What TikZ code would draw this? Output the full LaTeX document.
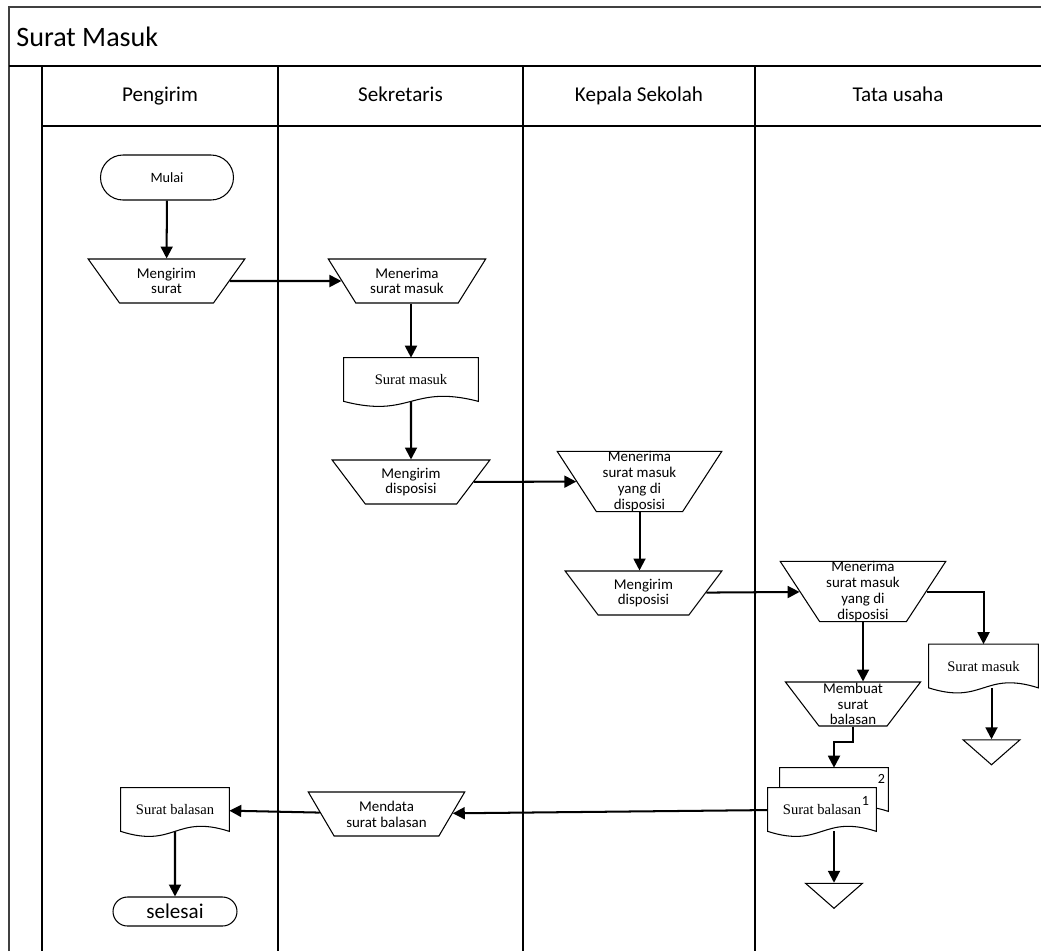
\documentclass[tikz,border=0pt]{standalone}
\usepackage{fontspec}
\setmainfont{Carlito}
\newfontfamily\docfont{Liberation Serif}
\usetikzlibrary{arrows.meta,shapes.geometric,shapes.misc,calc,backgrounds}
\definecolor{FrameGray}{RGB}{64,64,64}

% document symbol with a wavy bottom edge
\newcommand{\docshape}[1]{%
  \draw[fill=white, line width=0.6pt] (#1.south west) -- (#1.north west) -- (#1.north east) -- (#1.south east)
    .. controls ($(#1.south)+(0,0.35cm)$) and ($(#1.south)+(0,-0.35cm)$) .. (#1.south west) -- cycle;}

\begin{document}
\begin{tikzpicture}[x=0.02cm, y=-0.02cm,
    lane/.style={line width=0.85pt},
    title/.style={font=\fontsize{16}{18}\selectfont, inner sep=0pt},
    head/.style={font=\fontsize{12}{14}\selectfont, inner sep=0pt, anchor=base},
    term/.style={rounded rectangle, draw, line width=0.6pt, inner sep=0pt},
    manop/.style={trapezium, trapezium angle=53, trapezium stretches=true, shape border rotate=180,
        draw, line width=0.6pt, align=center, inner sep=0pt, minimum height=0.88cm, font=\fontsize{8.5}{9}\selectfont},
    doc/.style={rectangle, inner sep=0pt, minimum height=0.86cm, font=\docfont\fontsize{8.3}{10}\selectfont},
    num/.style={inner sep=0pt, font=\fontsize{8}{9}\selectfont},
    merge/.style={isosceles triangle, isosceles triangle stretches, shape border rotate=-90, draw, line width=0.6pt,
        inner sep=0pt, minimum width=1.14cm, minimum height=0.5cm},
    arr/.style={-{Triangle[length=6.8pt,width=6.8pt]}, line width=1.15pt}
]
    \useasboundingbox (0,0) rectangle (1041,951);

    % swimlane frame
    \draw[line width=1.2pt, FrameGray] (9,951) -- (9,7) -- (1041,7);
    \draw[lane] (9,66) -- (1041,66);
    \draw[lane] (42,66) -- (42,951);
    \draw[lane] (42,126) -- (1041,126);
    \foreach \lx in {278,523,755}
        \draw[lane] (\lx,66) -- (\lx,951);

    \node[title, anchor=west] (judul) at (16,37) {Surat Masuk};
    \node[head] (hpengirim) at (160,101)   {Pengirim};
    \node[head] (hsekretaris) at (400.5,101) {Sekretaris};
    \node[head] (hkepsek) at (639,101)   {Kepala Sekolah};
    \node[head] (htu) at (898,101)   {Tata usaha};

    % Pengirim
    \node[term, minimum width=2.66cm, minimum height=0.9cm, font=\fontsize{8.1}{9}\selectfont] (mulai) at (167,177.5) {Mulai};
    \node[manop, minimum width=3.14cm] (kirim) at (166.5,281) {Mengirim\\surat};
    \node[doc, minimum width=2.16cm] (sbp) at (175,809.5) {Surat balasan};
    \node[term, minimum width=2.48cm, minimum height=0.58cm, font=\fontsize{12}{14}\selectfont] (selesai) at (175,911.5) {selesai};

    % Sekretaris
    \node[manop, minimum width=3.16cm] (terima) at (407,281) {Menerima\\surat masuk};
    \node[doc, minimum width=2.68cm] (sm1) at (411,379.5) {Surat masuk};
    \node[manop, minimum width=3.16cm] (kdispo) at (411,482) {Mengirim\\disposisi};
    \node[manop, minimum width=3.14cm] (mendata) at (386.5,814) {Mendata\\surat balasan};

    % Kepala Sekolah
    \node[manop, trapezium angle=61, minimum width=3.3cm, minimum height=1.18cm] (terimak) at (639.5,481.5) {Menerima\\surat masuk\\yang di\\disposisi};
    \node[manop, minimum width=3.14cm] (kdispok) at (643.5,593) {Mengirim\\disposisi};

    % Tata usaha
    \node[manop, trapezium angle=61, minimum width=3.32cm, minimum height=1.18cm] (terimat) at (863,591.5) {Menerima\\surat masuk\\yang di\\disposisi};
    \node[doc, minimum width=2.18cm] (smt) at (983.5,666) {Surat masuk};
    \node[merge] (tr1) at (991.5,750.5) {};
    \node[manop, trapezium angle=55, minimum width=2.72cm] (buat) at (853,704) {Membuat\\surat\\balasan};
    \node[doc, minimum width=2.16cm] (sbl2) at (834,789.5) {};
    \node[doc, minimum width=2.16cm] (sbl1) at (822,809.5) {Surat balasan};
    \node[num] (n2) at ($(sbl2.north east)+(-7,11)$) {2};
    \node[num] (n1) at ($(sbl1.north east)+(-11,13)$) {1};
    \node[merge] (tr2) at (834,894) {};

    \begin{scope}[on background layer]
        \docshape{sm1}
        \docshape{smt}
        \docshape{sbp}
        \docshape{sbl2}
        \docshape{sbl1}
    \end{scope}

    \draw[arr] (mulai) -- (kirim);
    \draw[arr] (kirim) -- (terima);
    \draw[arr] (terima.south -| sm1.north) -- (sm1.north);
    \draw[arr] (sm1.south) -- (kdispo.north);
    \draw[arr] (kdispo) -- (terimak);
    \draw[arr] (terimak.south) -- (terimak.south |- kdispok.north);
    \draw[arr] (kdispok) -- (terimat);
    \draw[arr] (terimat) -| (smt.north);
    \draw[arr] (terimat.south) -- (terimat.south |- buat.north);
    \draw[arr] (smt.south -| tr1) -- (tr1);
    \draw[arr] (buat.south) -- ++(0,15) -| (sbl2.north);
    \draw[arr] (sbl1.south -| tr2) -- (tr2);
    \draw[arr] (sbl1) -- (mendata);
    \draw[arr] (mendata) -- (sbp);
    \draw[arr] (sbp.south) -- (selesai);
\end{tikzpicture}
\end{document}
